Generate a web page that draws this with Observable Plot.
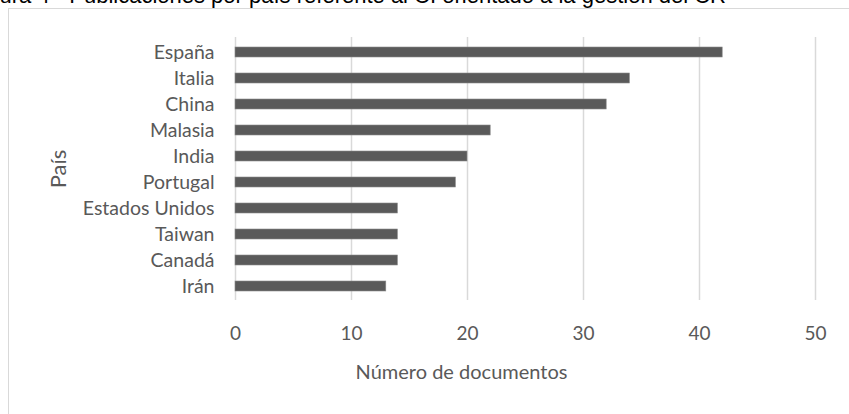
<!DOCTYPE html>
<html>
<head>
<meta charset="utf-8">
<script src="https://cdn.jsdelivr.net/npm/d3@7"></script>
<script src="https://cdn.jsdelivr.net/npm/@observablehq/plot@0.6"></script>
<style>
  html, body { margin: 0; padding: 0; background: #fff; }
  #wrap { position: relative; width: 849px; height: 414px; overflow: hidden; background: #fff; }
  #title { position: absolute; left: -31px; top: 0; font-family: "Liberation Sans", Arial, sans-serif; font-size: 22px; line-height: 22px; color: #000; white-space: nowrap; transform: translateY(-15px); }
  #frame { position: absolute; left: 8px; top: 8px; width: 900px; height: 500px; border-left: 1.5px solid #d9d9d9; border-top: 1.5px solid #d9d9d9; }
  #chart { position: absolute; left: 0; top: 0; }
</style>
</head>
<body>
<div id="wrap">
  <div id="frame"></div>
  <div id="title">Figura 4 - Publicaciones por país referente al CI orientado a la gestión del CR</div>
  <div id="chart"></div>
</div>
<script>
const countries = ["España", "Italia", "China", "Malasia", "India", "Portugal", "Estados Unidos", "Taiwan", "Canadá", "Irán"];
const documents = [42, 34, 32, 22, 20, 19, 14, 14, 14, 13];
const xTicks = [0, 10, 20, 30, 40, 50];
const xLabel = "Número de documentos";
const yLabel = "País";

const data = countries.map((c, i) => ({country: c, value: documents[i]}));
const font = "Lato, 'Open Sans', sans-serif";
const textColor = "#595959";

const chart = Plot.plot({
  width: 849,
  height: 414,
  marginLeft: 235,
  marginRight: 34,
  marginTop: 37,
  marginBottom: 114,
  style: {fontFamily: font, background: "transparent", color: textColor, overflow: "visible"},
  x: {domain: [0, 50], ticks: xTicks},
  y: {domain: countries, paddingInner: 0.62, paddingOuter: 0.29},
  marks: [
    Plot.gridX(xTicks, {stroke: "#d9d9d9", strokeOpacity: 1, strokeWidth: 1.5}),
    Plot.barX(data, {x: "value", y: "country", fill: "#5a5a5a", stroke: "#8a8a8a", strokeWidth: 0.6}),
    Plot.axisY({tickSize: 0, tickPadding: 21, fontSize: 19.5, label: null, fill: textColor}),
    Plot.axisX(xTicks, {tickSize: 0, tickPadding: 26, fontSize: 19, label: null, fill: textColor}),
    Plot.text([xLabel], {frameAnchor: "bottom", lineAnchor: "middle", dy: 72, dx: -64, fontSize: 20, fill: textColor}),
    Plot.text([yLabel], {frameAnchor: "left", textAnchor: "middle", lineAnchor: "middle", dx: -177, rotate: -90, fontSize: 22, fill: textColor})
  ]
});
document.getElementById("chart").appendChild(chart);
</script>
</body>
</html>
